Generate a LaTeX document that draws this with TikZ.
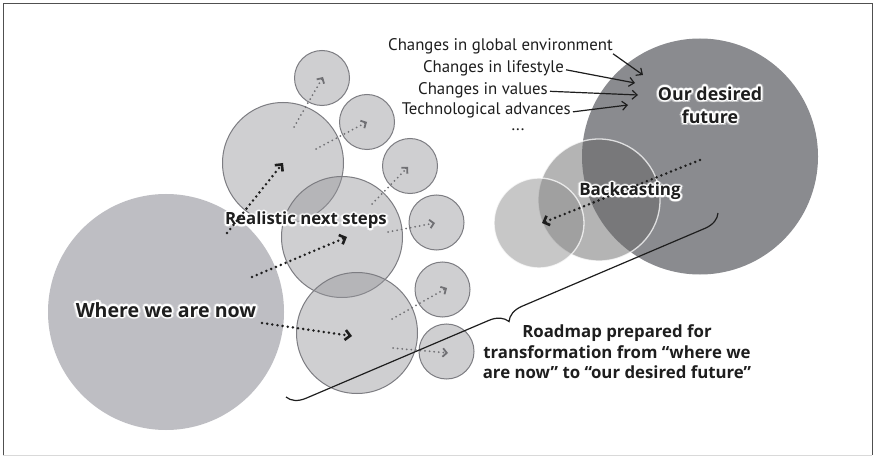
\documentclass[tikz,border=0pt]{standalone}
\usepackage{fontspec}
\setmainfont{PT Sans}
\newfontfamily\labelfont{Open Sans}
\usetikzlibrary{arrows.meta,decorations.pathreplacing,calc}
\definecolor{nowc}{RGB}{190,190,195}
\definecolor{darkc}{RGB}{138,139,143}
\definecolor{stepfill}{RGB}{150,150,155}
\definecolor{stepline}{RGB}{125,125,130}
\definecolor{grayarrow}{RGB}{112,112,116}
\definecolor{framec}{RGB}{80,80,80}
\definecolor{textc}{RGB}{30,30,30}
% #1 anchor, #2 size commands, #3 position, #4 name, #5 text
\newcommand{\glowlabel}[5]{%
  \foreach \ang in {0,45,...,315}{\node[lbl, anchor=#1, font=\labelfont\bfseries#2, text=white, text opacity=0.4] at ($(#3)+(\ang:2.8)$) {#5};}
  \foreach \ang in {0,30,...,330}{\node[lbl, anchor=#1, font=\labelfont\bfseries#2, text=white] at ($(#3)+(\ang:1.5)$) {#5};}
  \node[lbl, anchor=#1, font=\labelfont\bfseries#2] (#4) at (#3) {#5};}
\begin{document}
\begin{tikzpicture}[x=1pt,y=-1pt,
  lbl/.style={text=textc, align=center, inner sep=0pt},
  reg/.style={font=\fontsize{16.8}{20}\selectfont, text=textc, inner sep=0pt},
  nowcircle/.style={circle, inner sep=0pt, fill=nowc, minimum size=236pt},
  stepcircle/.style={circle, inner sep=0pt, fill=stepfill, fill opacity=0.45, draw=stepline, line width=1pt},
  bigstep/.style={stepcircle, minimum size=121pt},
  smallstep/.style={stepcircle, minimum size=55pt},
  futurecircle/.style={circle, inner sep=0pt, fill=darkc, minimum size=236pt},
  backcircle/.style={circle, inner sep=0pt, draw=white, draw opacity=0.75, line width=1.3pt},
  blackdots/.style={textc, line width=2.8pt, line cap=round, dash pattern=on 0pt off 5.2pt,
     -{Straight Barb[length=5pt,width=10pt,line width=2.6pt]}},
  graydots/.style={grayarrow, line width=2pt, line cap=round, dash pattern=on 0pt off 4.6pt,
     -{Straight Barb[length=4pt,width=8.5pt,line width=1.8pt]}},
  thinarrow/.style={textc, line width=1.2pt, -{Straight Barb[length=5pt,width=9pt]}}
]
\useasboundingbox (0,0) rectangle (875,457);
\fill[white] (0,0) rectangle (875,457);
\draw[framec, line width=1pt] (3,455) -- (3,3.5) -- (872,3.5) -- (872,455);
\draw[black!15, line width=1pt] (3,455) -- (872,455);

% left: where we are now and next steps
\node[nowcircle] (now) at (166,312) {};
\node[bigstep] (ca) at (283,163) {};
\node[bigstep] (cb) at (342,237) {};
\node[bigstep] (cc) at (357,333) {};
\node[smallstep] (s1) at (322,78) {};
\node[smallstep] (s2) at (367,122) {};
\node[smallstep] (s3) at (410,166) {};
\node[smallstep] (s4) at (436.5,222.5) {};
\node[smallstep] (s5) at (442.5,289.5) {};
\node[smallstep] (s6) at (446.5,351.5) {};

% right: desired future and backcasting
\node[futurecircle] (future) at (700,156.5) {};
\node[backcircle, fill=black!60, fill opacity=0.49, minimum size=122pt] (bk1) at (599,200) {};
\node[backcircle, fill=black!46, fill opacity=0.47, minimum size=90pt] (bk2) at (539,223) {};

% coordinates of arrow ends
\coordinate (g1a) at (294,127); \coordinate (g1b) at (323,77);
\coordinate (g2a) at (316,149); \coordinate (g2b) at (367,122);
\coordinate (g3a) at (372,204); \coordinate (g3b) at (408,167);
\coordinate (g4a) at (388,232); \coordinate (g4b) at (435,223);
\coordinate (g5a) at (392,319); \coordinate (g5b) at (447,288);
\coordinate (g6a) at (393,348); \coordinate (g6b) at (448,353);
\coordinate (b1a) at (227,233); \coordinate (b1b) at (283,163);
\coordinate (b2a) at (252,277); \coordinate (b2b) at (347,237);
\coordinate (b3a) at (262,323); \coordinate (b3b) at (352,336);
\coordinate (bca) at (700,160); \coordinate (bcb) at (542,223);

\draw[graydots] (g1a) -- (g1b);
\draw[graydots] (g2a) -- (g2b);
\draw[graydots] (g3a) -- (g3b);
\draw[graydots] (g4a) -- (g4b);
\draw[graydots] (g5a) -- (g5b);
\draw[graydots] (g6a) -- (g6b);

% brace
\coordinate (brA) at (286,397);
\coordinate (brB) at (718,213);
\draw[textc, line width=1.2pt, decorate, decoration={brace, amplitude=18pt, mirror}] (brA) -- (brB);

% labels
\glowlabel{base}{\fontsize{19.6}{23}\selectfont}{166,317}{lnow}{Where we are now}
\glowlabel{base}{\fontsize{16.8}{20}\selectfont}{306,225}{lsteps}{Realistic next steps}
\glowlabel{center}{\fontsize{17.8}{23}\selectfont}{710,105}{lfuture}{Our desired\\future}
\glowlabel{base}{\fontsize{17}{20}\selectfont}{630,196}{lback}{Backcasting}
\node[lbl, font=\labelfont\bfseries\fontsize{16.8}{20.5}\selectfont] (lroad) at (617,352) {Roadmap prepared for\\transformation from “where we\\are now” to “our desired future”};

\draw[blackdots] (b1a) -- (b1b);
\draw[blackdots] (b2a) -- (b2b);
\draw[blackdots] (b3a) -- (b3b);
\draw[blackdots] (bca) -- (bcb);

% drivers of change
\node[reg, anchor=base east] (t1) at (613,51) {Changes in global environment};
\node[reg, anchor=base east] (t2) at (564,73) {Changes in lifestyle};
\node[reg, anchor=base east] (t3) at (548,94.5) {Changes in values};
\node[reg, anchor=base east] (t4) at (571,115) {Technological advances};
\node[reg, anchor=base] (t5) at (518,131) {...};
\coordinate (f1) at (643,75);
\coordinate (f2) at (635,83);
\coordinate (f3) at (638,95);
\coordinate (f4) at (628,105);
\draw[thinarrow] (t1.south east) ++(0,-1) -- (f1);
\draw[thinarrow] (t2.east) ++(2,1) -- (f2);
\draw[thinarrow] (t3.east) ++(2,1) -- (f3);
\draw[thinarrow] (t4.east) ++(2,1) -- (f4);
\end{tikzpicture}
\end{document}
